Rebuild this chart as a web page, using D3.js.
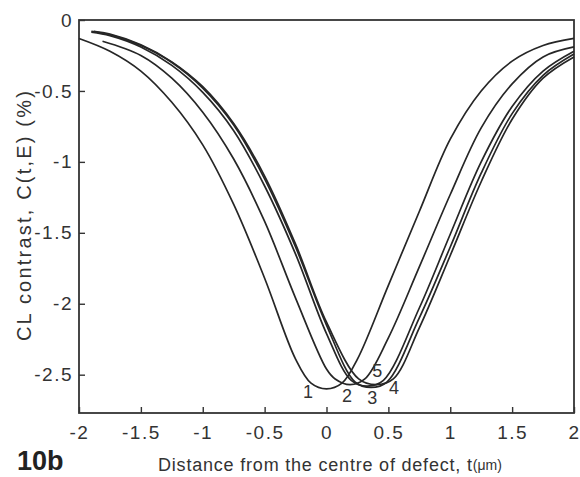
<!DOCTYPE html>
<html>
<head>
<meta charset="utf-8">
<script src="https://cdn.jsdelivr.net/npm/d3@7"></script>
<style>
  html, body { margin: 0; padding: 0; background: #fff; }
  svg { display: block; }
  .axis text { font-family: "Liberation Sans", Arial, sans-serif; font-size: 19px; fill: #333; letter-spacing: 1.5px; }
  .axis line { stroke: #333; stroke-width: 1.4; }
</style>
</head>
<body>
<div id="chart"></div>
<script>
'use strict';

// ── Data ───────────────────────────────────────────────────────────────────
const xTicks = [-2, -1.5, -1, -0.5, 0, 0.5, 1, 1.5, 2];
const yTicks = [0, -0.5, -1, -1.5, -2, -2.5];

const curve1T = [-2.0, -1.75, -1.5, -1.25, -1.0, -0.75, -0.5, -0.25, -0.125, 0, 0.125, 0.25, 0.5, 0.75, 1.0, 1.25, 1.5, 1.75, 2.0];
const curve1C = [-0.13, -0.22, -0.36, -0.58, -0.88, -1.30, -1.82, -2.39, -2.56, -2.60, -2.56, -2.39, -1.87, -1.35, -0.84, -0.50, -0.29, -0.18, -0.13];

const curve2T = [-1.81, -1.5, -1.25, -1.0, -0.75, -0.5, -0.25, 0, 0.07, 0.19, 0.31, 0.5, 0.75, 1.0, 1.25, 1.5, 1.75, 2.0];
const curve2C = [-0.15, -0.25, -0.41, -0.65, -0.98, -1.42, -1.96, -2.46, -2.53, -2.57, -2.53, -2.24, -1.74, -1.23, -0.76, -0.45, -0.26, -0.19];

const curve3T = [-1.9, -1.75, -1.5, -1.25, -1.0, -0.75, -0.5, -0.25, 0, 0.2, 0.33, 0.46, 0.75, 1.0, 1.25, 1.5, 1.75, 2.0];
const curve3C = [-0.085, -0.11, -0.19, -0.32, -0.51, -0.78, -1.17, -1.65, -2.21, -2.54, -2.58, -2.54, -2.03, -1.51, -1.00, -0.61, -0.36, -0.22];

const curve4T = [-1.88, -1.75, -1.5, -1.25, -1.0, -0.75, -0.5, -0.25, 0, 0.26, 0.4, 0.54, 0.75, 1.0, 1.25, 1.5, 1.75, 2.0];
const curve4C = [-0.08, -0.10, -0.175, -0.295, -0.47, -0.73, -1.10, -1.58, -2.13, -2.53, -2.57, -2.53, -2.17, -1.66, -1.14, -0.70, -0.41, -0.26];

const curve5T = [-1.9, -1.75, -1.5, -1.25, -1.0, -0.75, -0.5, -0.25, 0, 0.23, 0.36, 0.49, 0.75, 1.0, 1.25, 1.5, 1.75, 2.0];
const curve5C = [-0.08, -0.105, -0.18, -0.30, -0.48, -0.74, -1.12, -1.60, -2.15, -2.55, -2.59, -2.55, -2.10, -1.60, -1.08, -0.66, -0.39, -0.24];

const curveNames = ['1', '2', '3', '4', '5'];
// label anchor points in data units
const labelT = [-0.15, 0.165, 0.37, 0.545, 0.41];
const labelC = [-2.63, -2.66, -2.67, -2.60, -2.48];

const series = [
  { name: '1', t: curve1T, c: curve1C },
  { name: '2', t: curve2T, c: curve2C },
  { name: '3', t: curve3T, c: curve3C },
  { name: '4', t: curve4T, c: curve4C },
  { name: '5', t: curve5T, c: curve5C },
].map(s => ({ name: s.name, pts: s.t.map((t, i) => ({ t, c: s.c[i] })) }));

// ── Layout ─────────────────────────────────────────────────────────────────
const fullW = 580, fullH = 477;
const margin = { top: 20, right: 6, bottom: 64, left: 79 };
const W = fullW - margin.left - margin.right;
const H = fullH - margin.top - margin.bottom;

const x = d3.scaleLinear().domain([-2, 2]).range([0, W]);
const y = d3.scaleLinear().domain([-2.77, 0]).range([H, 0]);

const fmt = d => String(d);   // plain hyphen, as in the figure

const svg = d3.select('#chart').append('svg')
  .attr('width', fullW).attr('height', fullH);

const g = svg.append('g').attr('transform', `translate(${margin.left},${margin.top})`);

// Axes (ticks point inward)
g.append('g').attr('class', 'axis')
  .attr('transform', `translate(0,${H})`)
  .call(d3.axisBottom(x).tickValues(xTicks).tickSizeInner(-6).tickSizeOuter(0)
    .tickPadding(13).tickFormat(fmt))
  .call(ax => ax.select('.domain').remove());

g.append('g').attr('class', 'axis')
  .call(d3.axisLeft(y).tickValues(yTicks).tickSizeInner(-6).tickSizeOuter(0)
    .tickPadding(6).tickFormat(fmt))
  .call(ax => ax.select('.domain').remove());

// Frame
g.append('rect')
  .attr('x', 0).attr('y', 0).attr('width', W).attr('height', H)
  .attr('fill', 'none').attr('stroke', '#333').attr('stroke-width', 1.8);

// Curves
const line = d3.line()
  .x(d => x(d.t))
  .y(d => y(d.c))
  .curve(d3.curveCatmullRom.alpha(0.5));

g.selectAll('.curve')
  .data(series)
  .join('path')
  .attr('class', 'curve')
  .attr('fill', 'none')
  .attr('stroke', '#262626')
  .attr('stroke-width', 1.7)
  .attr('d', d => line(d.pts));

// Curve numbers
g.selectAll('.num')
  .data(curveNames)
  .join('text')
  .attr('class', 'num')
  .attr('x', (d, i) => x(labelT[i]))
  .attr('y', (d, i) => y(labelC[i]))
  .attr('text-anchor', 'middle')
  .attr('dominant-baseline', 'middle')
  .attr('font-family', '"Liberation Sans", Arial, sans-serif')
  .attr('font-size', '18px')
  .attr('fill', '#333')
  .text(d => d);

// Axis titles
const xt = svg.append('text')
  .attr('x', 158).attr('y', 471)
  .attr('font-family', '"Liberation Sans", Arial, sans-serif')
  .attr('font-size', '18px')
  .attr('letter-spacing', '0.8px')
  .attr('fill', '#333')
  .text('Distance from the centre of defect, t');
xt.append('tspan').attr('font-size', '14px').attr('dy', -1).attr('letter-spacing', '0px').text('(μm)');

svg.append('text')
  .attr('transform', 'translate(31,215) rotate(-90)')
  .attr('text-anchor', 'middle')
  .attr('font-family', '"Liberation Sans", Arial, sans-serif')
  .attr('font-size', '20px')
  .attr('letter-spacing', '2.2px')
  .attr('fill', '#333')
  .text('CL contrast, C(t,E) (%)');

svg.append('text')
  .attr('x', 17).attr('y', 470)
  .attr('font-family', '"Liberation Sans", Arial, sans-serif')
  .attr('font-size', '27px')
  .attr('font-weight', 'bold')
  .attr('fill', '#222')
  .text('10b');
</script>
</body>
</html>
